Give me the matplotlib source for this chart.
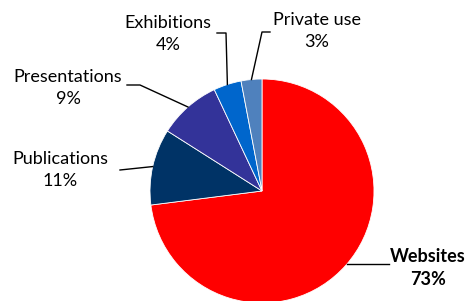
import numpy as np
import matplotlib
matplotlib.use('Agg')
import matplotlib.pyplot as plt

plt.rcParams['font.family'] = ['Lato', 'DejaVu Sans']

# Data
categories = ['Websites', 'Publications', 'Presentations', 'Exhibitions', 'Private use']
shares = [73, 11, 9, 4, 3]
colors = ['#FF0000', '#003366', '#333399', '#0066CC', '#4F81BD']

# Layout (axes use pixel-like units, y up)
W, H = 470, 301
center = (262, 110)
radius = 112
# label block centres and elbow points for leader lines
label_pos = {
    'Websites': (428, 33),
    'Publications': (60, 131),
    'Presentations': (68, 213),
    'Exhibitions': (168, 267),
    'Private use': (317, 270),
}
leader_elbow = {
    'Websites': [(389, 37)],
    'Publications': [(120, 131)],
    'Presentations': [(127, 216), (140, 216)],
    'Exhibitions': [(217, 268), (226, 268)],
    'Private use': [(270, 269), (262, 269)],
}

fig = plt.figure(figsize=(W / 100, H / 100), dpi=100)
ax = fig.add_axes([0, 0, 1, 1])

wedges, _ = ax.pie(shares, colors=colors, startangle=90, counterclock=False,
                   center=center, radius=radius, frame=True,
                   wedgeprops=dict(edgecolor='white', linewidth=0.6))
ax.set_xlim(0, W)
ax.set_ylim(0, H)
ax.set_aspect('equal')
ax.axis('off')

for w, name, val in zip(wedges, categories, shares):
    ang = np.deg2rad((w.theta1 + w.theta2) / 2)
    edge = (center[0] + radius * np.cos(ang), center[1] + radius * np.sin(ang))
    if name == 'Websites':
        # horizontal leader: meet the rim at the elbow's height
        y = leader_elbow[name][0][1]
        edge = (center[0] + np.sqrt(radius**2 - (y - center[1])**2), y)
    pts = leader_elbow[name] + [edge]
    ax.plot([p[0] for p in pts], [p[1] for p in pts], color='black', lw=1)
    bold = 'bold' if name == 'Websites' else 'normal'
    ax.text(label_pos[name][0], label_pos[name][1], f'{name}\n{val}%',
            ha='center', va='center', fontsize=13, fontweight=bold,
            linespacing=1.4)

fig.savefig('out.png', dpi=100)
